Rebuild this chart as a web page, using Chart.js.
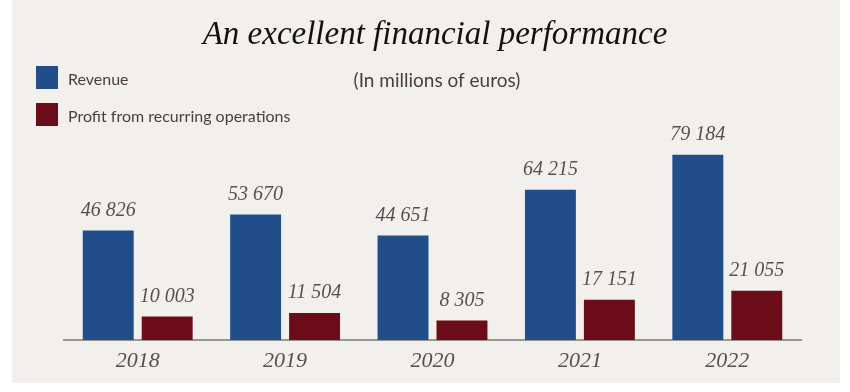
<!DOCTYPE html>
<html>
<head>
<meta charset="utf-8">
<script src="https://cdn.jsdelivr.net/npm/chart.js@4.4.1/dist/chart.umd.min.js"></script>
<style>
    html, body { margin: 0; padding: 0; background: #ffffff; }
    #wrap { position: relative; width: 850px; height: 392px; }
</style>
</head>
<body>
<div id="wrap"><canvas id="finChart" width="850" height="392"></canvas></div>
<script>
const years = ['2018', '2019', '2020', '2021', '2022'];
const revenue = [46826, 53670, 44651, 64215, 79184];
const profit = [10003, 11504, 8305, 17151, 21055];
const seriesNames = ['Revenue', 'Profit from recurring operations'];

const titleText = 'An excellent financial performance';
const unitText = '(In millions of euros)';

// number like 46 826
function fmt(v) {
    return String(v).replace(/\B(?=(\d{3})+(?!\d))/g, ' ');
}

// Panel background, title, subtitle, legend
const decorPlugin = {
    id: 'decor',
    beforeDraw(chart) {
        const ctx = chart.ctx;
        ctx.save();
        ctx.fillStyle = '#f2f0ed';
        ctx.fillRect(12, 0, 828, 383);

        ctx.fillStyle = '#141010';
        ctx.font = 'italic 33px "Liberation Serif", serif';
        ctx.textAlign = 'center';
        ctx.textBaseline = 'middle';
        ctx.fillText(titleText, 435, 35);

        ctx.fillStyle = '#4a3d3d';
        ctx.font = '19px Lato, sans-serif';
        ctx.fillText(unitText, 437, 81);

        ctx.textAlign = 'left';
        ctx.font = '16px Lato, sans-serif';
        chart.data.datasets.forEach((ds, i) => {
            const y = 66 + i * 37;
            ctx.fillStyle = ds.backgroundColor;
            ctx.fillRect(36, y, 22, 23);
            ctx.fillStyle = '#4a3d3d';
            ctx.fillText(ds.label, 68, y + 14);
        });
        ctx.restore();
    },
    afterDatasetsDraw(chart) {
        const ctx = chart.ctx;
        ctx.save();
        ctx.fillStyle = '#555050';
        ctx.font = 'italic 20px "Liberation Serif", serif';
        ctx.textAlign = 'center';
        ctx.textBaseline = 'bottom';
        chart.data.datasets.forEach((ds, i) => {
            chart.getDatasetMeta(i).data.forEach((bar, j) => {
                ctx.fillText(fmt(ds.data[j]), bar.x, bar.y - 10);
            });
        });
        ctx.restore();
    }
};

new Chart(document.getElementById('finChart'), {
    type: 'bar',
    data: {
        labels: years,
        datasets: [{
            label: seriesNames[0],
            data: revenue,
            backgroundColor: '#214e8a',
            categoryPercentage: 0.8,
            barPercentage: 0.864
        }, {
            label: seriesNames[1],
            data: profit,
            backgroundColor: '#6b0d18',
            categoryPercentage: 0.8,
            barPercentage: 0.864
        }]
    },
    options: {
        responsive: false,
        animation: false,
        layout: { padding: { left: 64, right: 49, top: 106, bottom: 0 } },
        plugins: {
            legend: { display: false },
            tooltip: { enabled: false }
        },
        scales: {
            x: {
                grid: { display: false, drawTicks: false },
                border: { display: true, color: '#9a9595', width: 2 },
                ticks: {
                    color: '#555050',
                    padding: 8,
                    font: { family: '"Liberation Serif", serif', style: 'italic', size: 22 }
                },
                afterFit(scale) { scale.height = 52; }
            },
            y: {
                display: false,
                min: 0,
                max: 100000
            }
        }
    },
    plugins: [decorPlugin]
});
</script>
</body>
</html>
